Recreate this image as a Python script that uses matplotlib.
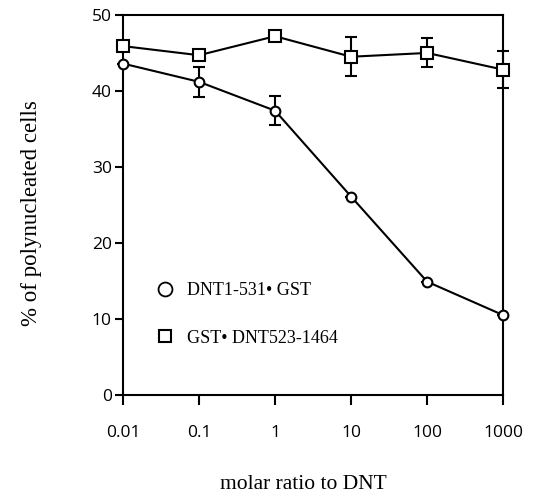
import matplotlib
matplotlib.use('Agg')
import matplotlib.pyplot as plt
from matplotlib.lines import Line2D
import numpy as np

# molar ratio to DNT
ratio = [0.01, 0.1, 1, 10, 100, 1000]

# DNT1-531 . GST (circles)
circ_y = [43.6, 41.2, 37.4, 26.1, 14.9, 10.5]
circ_err = [0, 2.0, 1.9, 0, 0, 0]

# GST . DNT523-1464 (squares)
sq_y = [45.9, 44.7, 47.2, 44.5, 45.0, 42.8]
sq_err = [0, 0, 0, 2.6, 1.9, 2.4]

tick_labels = ['0.01', '0.1', '1', '10', '100', '1000']

serif = ['Liberation Serif', 'DejaVu Serif']
sans = ['Open Sans', 'DejaVu Sans']

fig = plt.figure(figsize=(5.37, 4.98), dpi=100)
ax = fig.add_axes([0.229, 0.207, 0.708, 0.763])

for yv, ev, mk, ms in [(sq_y, sq_err, 's', 9), (circ_y, circ_err, 'o', 7)]:
    lines = ax.errorbar(ratio, yv, yerr=ev, color='black', lw=1.5, marker=mk,
                        ms=ms, mfc='white', mec='black', mew=1.5, capsize=4.5,
                        capthick=1.5, elinewidth=1.5, zorder=3)
    for art in lines.get_children():
        art.set_clip_on(False)

ax.set_xscale('log')
ax.set_xlim(0.01, 1000)
ax.set_ylim(0, 50)
ax.set_xticks(ratio)
ax.set_xticklabels(tick_labels, fontfamily=sans, fontsize=12.5)
ax.minorticks_off()
ax.set_yticks([0, 10, 20, 30, 40, 50])
ax.set_yticklabels(['0', '10', '20', '30', '40', '50'], fontfamily=sans, fontsize=12.5)
ax.tick_params(axis='x', direction='out', length=7, width=1.5, pad=15)
ax.tick_params(axis='y', direction='out', length=6, width=1.5, pad=2)
for s in ax.spines.values():
    s.set_linewidth(1.5)

ax.set_ylabel('% of polynucleated cells', fontfamily=serif, fontsize=16.5, labelpad=36)
ax.yaxis.label.set_y(0.479)
ax.set_xlabel('molar ratio to DNT', fontfamily=serif, fontsize=15.5, labelpad=24)
ax.xaxis.label.set_x(0.474)

handles = [
    Line2D([], [], ls='none', marker='o', ms=10, mfc='white', mec='black', mew=1.3),
    Line2D([], [], ls='none', marker='s', ms=9, mfc='white', mec='black', mew=1.5),
]
ax.legend(handles, ['DNT1-531\u2022 GST', 'GST\u2022 DNT523-1464'],
          loc='upper left', bbox_to_anchor=(0.04, 0.34), frameon=False,
          prop={'family': serif, 'size': 13}, labelspacing=1.7,
          handletextpad=0.6, handlelength=1.2)

fig.savefig('out.png', dpi=100)
